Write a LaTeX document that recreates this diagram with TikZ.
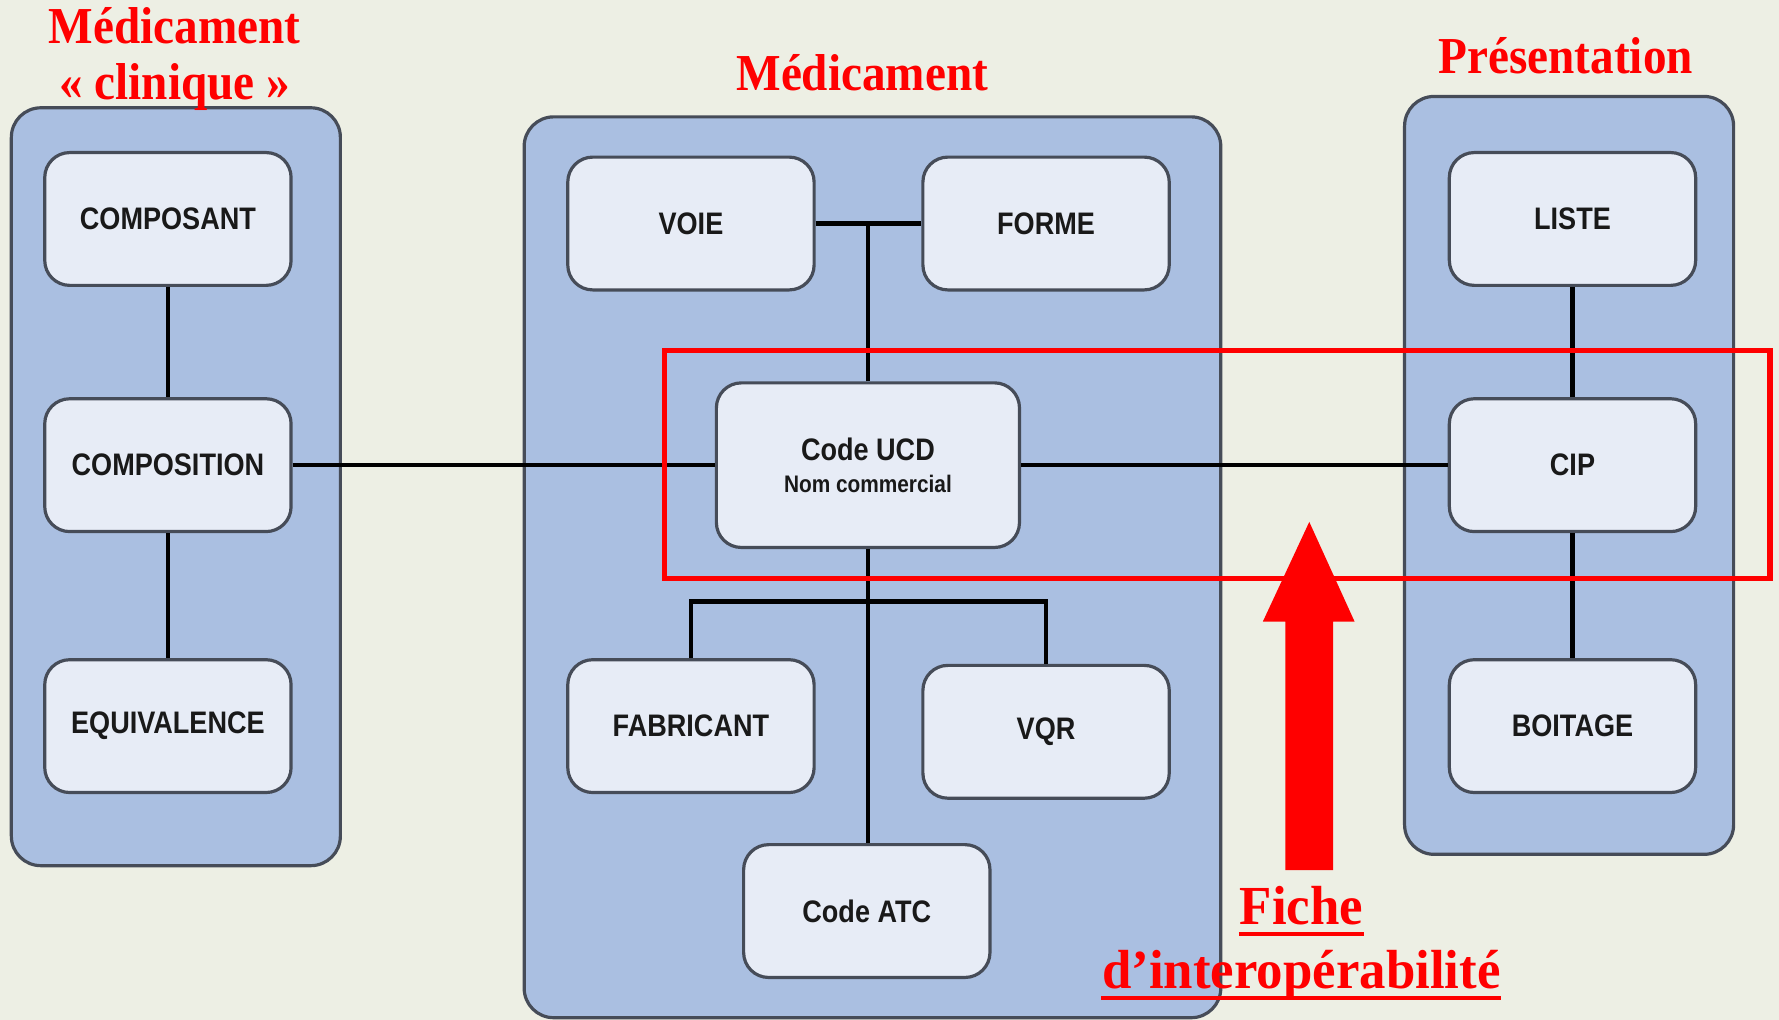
\documentclass[tikz,border=0pt]{standalone}
\usepackage{fontspec}
\setmainfont{Liberation Serif}
\newfontfamily\labelfont{Liberation Sans}
\usepackage{graphicx}
\usepackage{tikz}

\definecolor{bgcol}{RGB}{237,239,228}
\definecolor{groupblue}{RGB}{170,191,225}
\definecolor{boxfill}{RGB}{231,236,246}
\definecolor{edgegrey}{RGB}{70,76,88}

% horizontally squeezed text (the labels are condensed)
\newcommand{\squeezed}[2]{\scalebox{#1}[1]{#2}}

\begin{document}
\begin{tikzpicture}[x=0.01cm, y=0.01cm,
    group/.style={draw=edgegrey, line width=0.8pt, fill=groupblue, rounded corners=0.26cm},
    entity/.style={draw=edgegrey, line width=0.8pt, fill=boxfill, rounded corners=0.22cm,
      minimum width=2.17cm, minimum height=1.17cm, inner sep=0pt,
      font=\labelfont\bfseries\fontsize{7.8}{9}\selectfont, text=black!90},
    link/.style={line width=1.1pt, black},
    heading/.style={text=red, inner sep=0pt, anchor=base,
      font=\bfseries\fontsize{13}{15}\selectfont}]

  % Background
  \fill[bgcol] (0,0) rectangle (1568,899);
  \useasboundingbox (0,0) rectangle (1568,899);

  % Groups
  \draw[group] (10,136) rectangle (300,804);
  \draw[group] (462,2) rectangle (1076,796);
  \draw[group] (1238,146) rectangle (1528,814);

  % Group titles
  \node[heading] (clin-a) at (154,861) {\squeezed{0.91}{Médicament}};
  \node[heading] (clin-b) at (154,811) {\squeezed{0.91}{« clinique »}};
  \node[heading] (med) at (760,819) {\squeezed{0.91}{Médicament}};
  \node[heading] (pres) at (1380,834) {\squeezed{0.91}{Présentation}};

  % Entities: left group
  \node[entity] (composant) at (148,706) {\squeezed{0.87}{COMPOSANT}};
  \node[entity] (composition) at (148,489) {\squeezed{0.87}{COMPOSITION}};
  \node[entity] (equivalence) at (148,259) {\squeezed{0.87}{EQUIVALENCE}};

  % Entities: middle group
  \node[entity] (voie) at (609,702) {\squeezed{0.87}{VOIE}};
  \node[entity] (forme) at (922,702) {\squeezed{0.87}{FORME}};
  \node[entity, minimum width=2.67cm, minimum height=1.45cm, align=center] (ucd) at (765,489)
    {\squeezed{0.87}{Code UCD}\\[-1pt]{\fontsize{6}{7}\selectfont\squeezed{0.87}{Nom commercial}}};
  \node[entity] (fabricant) at (609,259) {\squeezed{0.87}{FABRICANT}};
  \node[entity] (vqr) at (922,254) {\squeezed{0.87}{VQR}};
  \node[entity] (atc) at (764,96) {\squeezed{0.87}{Code ATC}};

  % Entities: right group
  \node[entity] (liste) at (1386,706) {\squeezed{0.87}{LISTE}};
  \node[entity] (cip) at (1386,489) {\squeezed{0.87}{CIP}};
  \node[entity] (boitage) at (1386,259) {\squeezed{0.87}{BOITAGE}};

  % Links
  \draw[link] (composant) -- (composition);
  \draw[link] (composition) -- (equivalence);
  \draw[link] (liste) -- (cip);
  \draw[link] (cip) -- (boitage);
  \draw[link] (composition) -- (ucd);
  \draw[link] (ucd) -- (cip);
  \draw[link] (voie) -- (forme);
  \draw[link] (ucd.north) -- (ucd.north |- voie.east);
  \coordinate (hub) at (765,369);
  \draw[link] (ucd.south) -- (hub) -- (hub |- atc.north);
  \draw[link] (fabricant.north) |- (hub) -| (vqr.north);

  % Interoperability frame and arrow
  \draw[red, line width=1.3pt] (586,389) rectangle (1560,590);
  \fill[red] (1133,132) -- (1175,132) -- (1175,351) -- (1194,351)
    -- (1154,439) -- (1113,351) -- (1133,351) -- cycle;

  % Caption
  \node[heading, font=\bfseries\fontsize{13.8}{15}\selectfont] (fiche) at (1147,84)
    {\squeezed{0.96}{Fiche}};
  \node[heading, font=\bfseries\fontsize{13.8}{15}\selectfont] (interop) at (1147,28)
    {\squeezed{0.96}{d’interopérabilité}};
  \draw[red, line width=1pt] ([yshift=-2.3pt]fiche.base west) -- ([yshift=-2.3pt]fiche.base east);
  \draw[red, line width=1pt] ([yshift=-2.5pt]interop.base west) -- ([yshift=-2.5pt]interop.base east);
\end{tikzpicture}
\end{document}
